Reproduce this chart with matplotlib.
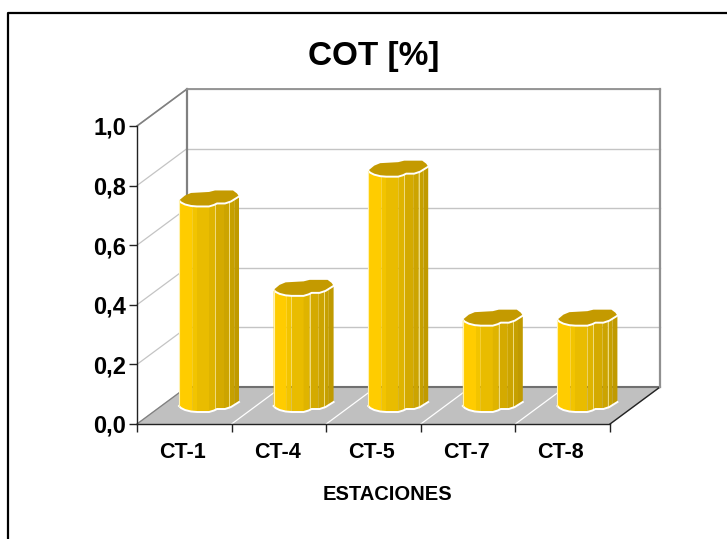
import matplotlib
matplotlib.use("Agg")
import matplotlib.pyplot as plt
from matplotlib.lines import Line2D

plt.rcParams["font.family"] = ["Liberation Sans", "DejaVu Sans"]

categories = ["CT-1", "CT-4", "CT-5", "CT-7", "CT-8"]
cot = [0.7, 0.4, 0.8, 0.3, 0.3]
yticks = [0.0, 0.2, 0.4, 0.6, 0.8, 1.0]
ytick_labels = ["0,0", "0,2", "0,4", "0,6", "0,8", "1,0"]

W, H = 727, 539
X0, X1, Y0, Y1 = 137, 610, 424, 126  # front plane, pixels
DX = 50 / ((X1 - X0) / 5)            # depth in category units
DY = 37 / (Y0 - Y1)                  # depth in value units
BAR_W = 60 / ((X1 - X0) / 5)
BAR_X = 42 / ((X1 - X0) / 5)
BAR_Y = 12 / (Y0 - Y1)
TOP_SHIFT = 0.03

# bar cross section, pixels from its left / lowest point
front = [(0, 6), (2, 4), (6, 2), (12, 0.5), (18, 0), (30, 0), (35, 1.5), (38, 3), (46, 3),
         (52, 5), (60, 10)]
back = [(60, 10), (58, 13), (54, 16), (36, 16), (30, 14.5), (12, 13.5), (6, 11), (0, 6)]
front = [(x / 60, y / 16) for x, y in front]
back = [(x / 60, y / 16) for x, y in back]
strips = [(0.0, 0.22, "#ffcc00"), (0.22, 0.30, "#f2c400"), (0.30, 0.50, "#e9bc00"),
          (0.50, 0.60, "#dfb400"), (0.60, 0.75, "#d4aa00"), (0.75, 0.84, "#cca400"),
          (0.84, 0.92, "#c6a000"), (0.92, 1.0, "#c09a00")]
top_color = "#c49a00"
edge_h = 16 / (Y0 - Y1)


def outline_y(xf):
    xs = [p[0] for p in front]
    ys = [p[1] for p in front]
    for a in range(len(xs) - 1):
        if xs[a] <= xf <= xs[a + 1]:
            return ys[a] + (xf - xs[a]) / (xs[a + 1] - xs[a]) * (ys[a + 1] - ys[a])
    return ys[-1]


fig = plt.figure(figsize=(W / 100, H / 100), dpi=100)
ax = fig.add_axes([X0 / W, 1 - Y0 / H, (X1 - X0) / W, (Y0 - Y1) / H])
ax.set_xlim(0, 5)
ax.set_ylim(0, 1)
for s in ["top", "right"]:
    ax.spines[s].set_visible(False)
for s in ["left", "bottom"]:
    ax.spines[s].set_linewidth(1.0)
    ax.spines[s].set_color("#222222")

# chart border, runs off the right and bottom
fig.add_artist(Line2D([8 / W, 8 / W, 1], [0, 1 - 13 / H, 1 - 13 / H], color="black", lw=1.6))

# floor
ax.fill([0, 5, 5 + DX, DX], [0, 0, DY, DY], color="#c0c0c0", clip_on=False, zorder=1)
ax.plot([DX, 5 + DX], [DY, DY], color="#707070", lw=1.5, clip_on=False, zorder=1.5)
ax.plot([5, 5 + DX], [0, DY], color="#222222", lw=1.0, clip_on=False, zorder=1.5)
for i in range(1, 5):
    ax.plot([i, i + DX], [0, DY], color="white", lw=0.9, clip_on=False, zorder=1.5)

# walls
for t in yticks[1:]:
    ax.plot([0, DX], [t, t + DY], color="#c4c4c4", lw=0.9, clip_on=False, zorder=1.2)
    ax.plot([DX, 5 + DX], [t + DY, t + DY], color="#c4c4c4", lw=1.0, clip_on=False, zorder=1.2)
ax.plot([0, DX], [1, 1 + DY], color="#808080", lw=1.2, clip_on=False, zorder=1.5)
ax.plot([DX, DX], [DY, 1 + DY], color="#808080", lw=1.6, clip_on=False, zorder=1.5)
ax.plot([DX, 5 + DX], [1 + DY, 1 + DY], color="#909090", lw=1.3, clip_on=False, zorder=1.5)
ax.plot([5 + DX, 5 + DX], [DY, 1 + DY], color="#909090", lw=1.6, clip_on=False, zorder=1.5)
ax.plot([0, DX], [0, DY], color="#808080", lw=0.9, clip_on=False, zorder=1.5)

# bars
for i, v in enumerate(cot):
    left = i + BAR_X
    top = v + TOP_SHIFT
    for a, b, c in strips:
        cuts = [a] + [p[0] for p in front if a < p[0] < b] + [b]
        low = [outline_y(f) * edge_h for f in cuts]
        px = [left + f * BAR_W for f in cuts]
        ax.fill(px + px[::-1],
                [BAR_Y + y for y in low] + [top + y for y in low[::-1]],
                color=c, lw=0, clip_on=False, zorder=3)
    for f in (0.60, 0.84):
        ax.plot([left + f * BAR_W] * 2, [BAR_Y + outline_y(f) * edge_h, top + outline_y(f) * edge_h],
                color="#f0dc80", lw=0.7, clip_on=False, zorder=3.2)
    # top cap
    cap = front + back[1:]
    ax.fill([left + p[0] * BAR_W for p in cap], [top + p[1] * edge_h for p in cap],
            color=top_color, lw=0, clip_on=False, zorder=3.3)
    ax.plot([left + p[0] * BAR_W for p in front], [top + p[1] * edge_h for p in front],
            color="white", lw=1.4, clip_on=False, zorder=3.4)
    # white outline round the foot and the left side
    ax.plot([left + p[0] * BAR_W for p in front], [BAR_Y + p[1] * edge_h for p in front],
            color="white", lw=1.4, clip_on=False, zorder=3.4)
    ax.plot([left, left], [BAR_Y + front[0][1] * edge_h, top + front[0][1] * edge_h],
            color="#fff2b0", lw=0.8, clip_on=False, zorder=3.4)

ax.set_xticks(range(6))
ax.set_xticklabels([""] * 6)
ax.tick_params(axis="x", length=6, width=1, color="#222222")
for i, name in enumerate(categories):
    ax.text(i + 0.48, -0.097, name, ha="center", va="center", fontsize=15.5, fontweight="bold", clip_on=False)

ax.set_yticks(yticks)
ax.set_yticklabels(ytick_labels, fontsize=17, fontweight="bold")
ax.tick_params(axis="y", length=6, width=1, color="#222222", pad=2)

fig.text(374 / W, 1 - 57 / H, "COT [%]", ha="center", va="center", fontsize=24, fontweight="bold")
fig.text(387 / W, 1 - 494 / H, "ESTACIONES", ha="center", va="center", fontsize=14.5, fontweight="bold")

fig.savefig("out.png", dpi=100)
